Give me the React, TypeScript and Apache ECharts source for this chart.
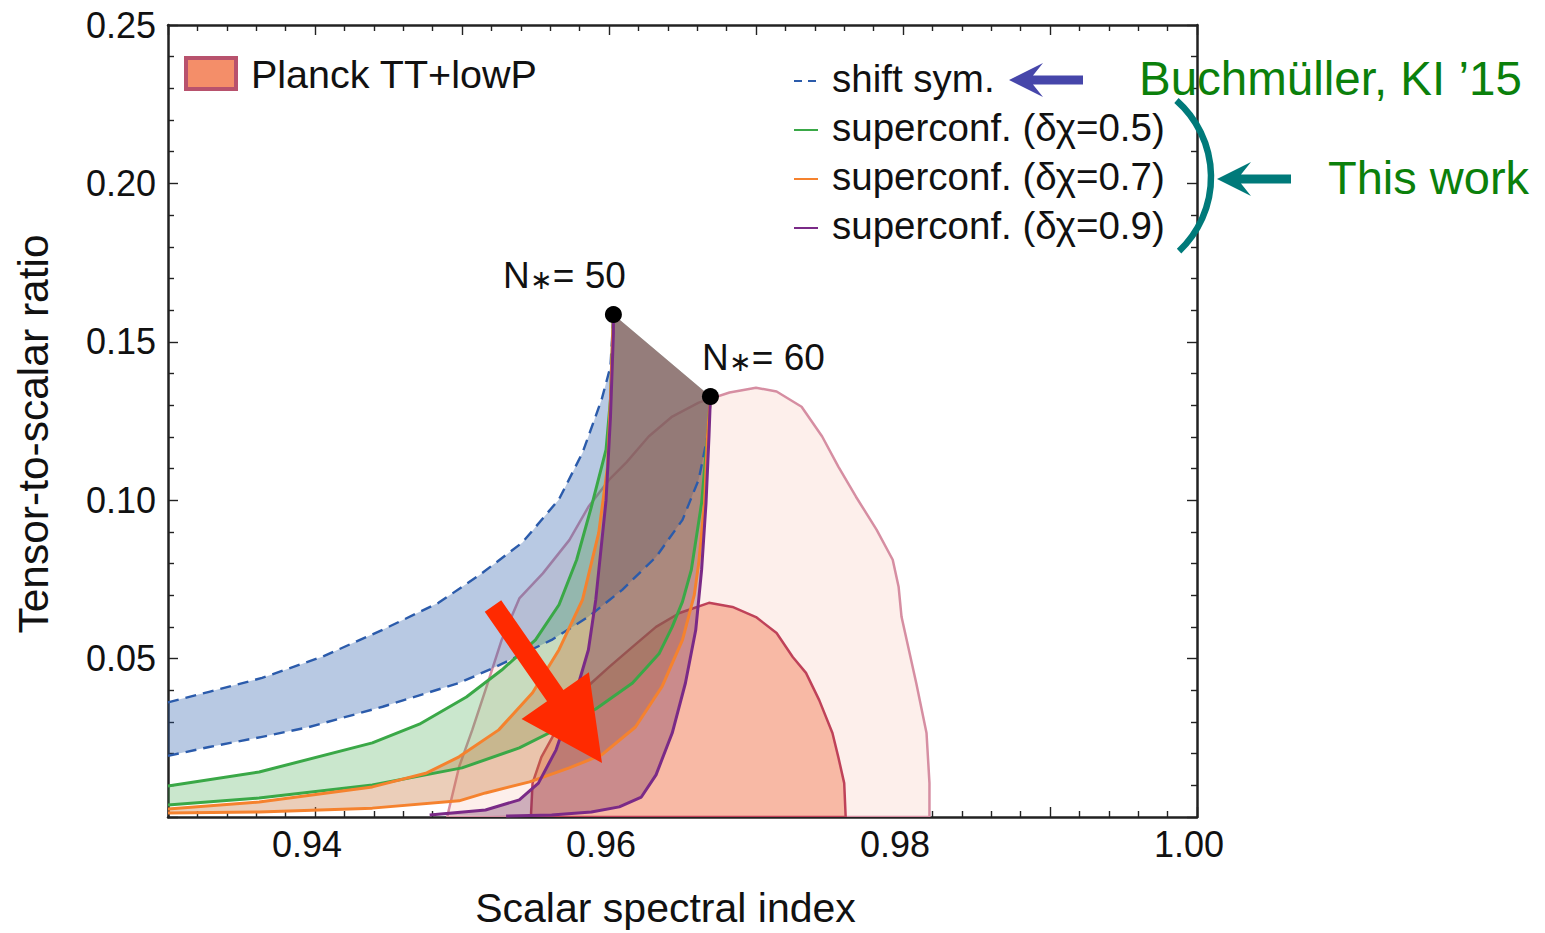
import React, { useEffect, useRef } from "react";
import * as echarts from "echarts";

const FONT = '"Liberation Sans", Arial, Helvetica, sans-serif';

// axis ranges and tick labels
const xRange = [0.93, 1.0];
const yRange = [0, 0.25];
const xTickLabels = ["0.94", "0.96", "0.98", "1.00"];
const yTickLabels = ["0.05", "0.10", "0.15", "0.20", "0.25"];

// end points of the predictions
const nStar50 = [0.9603, 0.1586];
const nStar60 = [0.9669, 0.1327];
const nStarNumbers = ["50", "60"];

// shift symmetric (Buchmüller, KI '15)
const shiftSymUpper = [
  [0.93, 0.0362], [0.9328, 0.0395], [0.9364, 0.0439], [0.9405, 0.0506], [0.9446, 0.0591],
  [0.9484, 0.0676], [0.9512, 0.0764], [0.9541, 0.0866], [0.9566, 0.1003], [0.9582, 0.115],
  [0.9595, 0.1318], [0.9601, 0.1422], nStar50,
];
const shiftSymLower = [
  [0.93, 0.0193], [0.9328, 0.0221], [0.9364, 0.0253], [0.9396, 0.0284], [0.9446, 0.0348],
  [0.9498, 0.0423], [0.9523, 0.0474], [0.9561, 0.0559], [0.9586, 0.0632], [0.9609, 0.0717],
  [0.9632, 0.0821], [0.965, 0.0938], [0.9661, 0.1065], [0.9667, 0.1201], nStar60,
];
// superconformal, δχ = 0.5
const sc05Upper = [
  [0.93, 0.0098], [0.9362, 0.0142], [0.9439, 0.0234], [0.9471, 0.0293], [0.9503, 0.0379],
  [0.9527, 0.0464], [0.955, 0.0559], [0.9566, 0.067], [0.9578, 0.0812], [0.9588, 0.0979],
  [0.9598, 0.116], [0.9601, 0.1318], nStar50,
];
const sc05Lower = [
  [0.93, 0.0038], [0.9362, 0.006], [0.9439, 0.0101], [0.95, 0.0155], [0.9539, 0.0218],
  [0.9566, 0.0281], [0.9591, 0.0341], [0.9616, 0.0423], [0.9634, 0.0515], [0.9643, 0.06],
  [0.965, 0.068], [0.9656, 0.078], [0.9663, 0.0991], [0.9667, 0.12], nStar60,
];
// superconformal, δχ = 0.7
const sc07Upper = [
  [0.93, 0.0025], [0.9362, 0.0047], [0.9439, 0.0095], [0.9476, 0.0139], [0.9498, 0.019],
  [0.9525, 0.0275], [0.9548, 0.0392], [0.9566, 0.0528], [0.9582, 0.0686], [0.9593, 0.0897],
  [0.9599, 0.1106], [0.9601, 0.1318], nStar50,
];
const sc07Lower = [
  [0.93, 0.0013], [0.9362, 0.0016], [0.9439, 0.0028], [0.9498, 0.0051], [0.9516, 0.0076],
  [0.9546, 0.0111], [0.9573, 0.0155], [0.9595, 0.0196], [0.9618, 0.0284], [0.9636, 0.0411],
  [0.965, 0.0559], [0.9658, 0.07], [0.9661, 0.08], [0.9665, 0.0991], [0.9667, 0.12], nStar60,
];
// superconformal, δχ = 0.9
const sc09Upper = [
  [0.9478, 0.0006], [0.9516, 0.0022], [0.9539, 0.0054], [0.9552, 0.0107], [0.9564, 0.0212],
  [0.9578, 0.0401], [0.9586, 0.0528], [0.9591, 0.0686], [0.9598, 0.1], [0.9601, 0.1263],
  [0.9603, 0.1528], nStar50,
];
const sc09Lower = [
  [0.953, 0.0003], [0.9561, 0.0006], [0.9588, 0.0016], [0.9607, 0.0032], [0.9622, 0.0063],
  [0.9632, 0.0133], [0.9643, 0.0265], [0.9652, 0.0423], [0.9659, 0.059], [0.9663, 0.078],
  [0.9666, 0.0991], [0.9668, 0.12], nStar60,
];
// Planck TT+lowP contours
const planck95 = [
  [0.949, 0.0], [0.9491, 0.0022], [0.9498, 0.0158], [0.9507, 0.0275], [0.9516, 0.0401],
  [0.9527, 0.0559], [0.9539, 0.069], [0.9555, 0.0769], [0.9573, 0.0874], [0.9586, 0.0979],
  [0.96, 0.1064], [0.9612, 0.112], [0.9627, 0.1201], [0.9643, 0.1264], [0.9661, 0.1308],
  [0.9682, 0.134], [0.97, 0.1355], [0.9714, 0.1343], [0.9731, 0.1295], [0.9745, 0.1201],
  [0.9756, 0.1106], [0.9768, 0.1011], [0.9782, 0.0907], [0.9793, 0.0812], [0.9797, 0.0727],
  [0.9799, 0.0632], [0.9809, 0.0423], [0.9816, 0.0265], [0.9818, 0.0107], [0.9818, 0.0],
];
const planck68 = [
  [0.9547, 0.0], [0.9547, 0.0013], [0.9548, 0.0107], [0.9554, 0.0189], [0.9566, 0.029],
  [0.9578, 0.0379], [0.9588, 0.0423], [0.96, 0.0473], [0.9616, 0.0537], [0.9632, 0.06],
  [0.9648, 0.0644], [0.9668, 0.0676], [0.9684, 0.0663], [0.97, 0.0631], [0.9714, 0.0581],
  [0.9725, 0.0505], [0.9734, 0.0455], [0.9743, 0.0369], [0.9752, 0.0265], [0.9756, 0.0189],
  [0.976, 0.0107], [0.9761, 0.0],
];

const legendLabels = [
  "shift sym.",
  "superconf. (\u03b4\u03c7=0.5)",
  "superconf. (\u03b4\u03c7=0.7)",
  "superconf. (\u03b4\u03c7=0.9)",
];
const planckLabel = "Planck TT+lowP";
const noteTexts = ["Buchm\u00fcller, KI \u201915", "This work"];
const xTitle = "Scalar spectral index";
const yTitle = "Tensor-to-scalar ratio";

const BLUE = "#2b5bab";
const GREEN = "#3aa847";
const ORANGE = "#f5822e";
const PURPLE = "#7a2a87";
const lineColors = [BLUE, GREEN, ORANGE, PURPLE];
const fillColors = [
  "rgba(40,90,170,0.33)",
  "rgba(60,167,72,0.27)",
  "rgba(200,120,60,0.36)",
  "rgba(115,50,95,0.34)",
];

type P = number[];

function arrowPoints(tip: P, tail: P, headLen: number, headHalf: number, notch: number, shaftHalf: number) {
  const dx = tail[0] - tip[0];
  const dy = tail[1] - tip[1];
  const len = Math.hypot(dx, dy);
  const ux = dx / len, uy = dy / len;
  const nx = -uy, ny = ux;
  const at = (t: number, s: number) => [tip[0] + ux * t + nx * s, tip[1] + uy * t + ny * s];
  return [
    tip,
    at(headLen, headHalf),
    at(notch, shaftHalf),
    at(len, shaftHalf),
    at(len, -shaftHalf),
    at(notch, -shaftHalf),
    at(headLen, -headHalf),
  ];
}

function polySeries(name: string, pts: number[][], fill: string, stroke: string | null, lw: number, z: number) {
  return {
    type: "custom",
    name,
    coordinateSystem: "cartesian2d",
    clip: true,
    silent: true,
    z,
    data: [pts[0]],
    renderItem: (_params: any, api: any) => ({
      type: "polygon",
      shape: { points: pts.map((p) => api.coord(p)) },
      style: { fill, stroke: stroke || "none", lineWidth: lw, lineJoin: "round" },
    }),
  };
}

function lineSeries(name: string, pts: number[][], color: string, width: number, dashed: boolean, z: number) {
  return {
    type: "line",
    name,
    data: pts,
    showSymbol: false,
    symbol: "none",
    clip: true,
    silent: true,
    z,
    lineStyle: { color, width, type: dashed ? [11, 7] : "solid", cap: "butt", join: "round" },
  };
}

export default function App() {
  const ref = useRef<HTMLDivElement>(null);
  useEffect(() => {
    document.body.style.margin = "0";
    document.body.style.overflow = "hidden";
    const chart = echarts.init(ref.current as HTMLDivElement, undefined, { renderer: "svg" });

    const bands = [
      [shiftSymUpper, shiftSymLower],
      [sc05Upper, sc05Lower],
      [sc07Upper, sc07Lower],
      [sc09Upper, sc09Lower],
    ];

    const series: any[] = [];
    series.push(polySeries("Planck 95%", planck95, "#fdefeb", "#d68ea2", 2.5, 1));
    series.push(polySeries("Planck 68%", planck68, "#f8b9a5", "#bf4259", 2.5, 2));
    bands.forEach(([u, l], i) => {
      series.push(polySeries(legendLabels[i] + " band", [...u, ...l.slice().reverse()], fillColors[i], null, 0, 3 + i));
    });
    bands.forEach(([u, l], i) => {
      series.push(lineSeries(legendLabels[i], u, lineColors[i], i === 0 ? 2.4 : 3, i === 0, 10 + i));
      series.push(lineSeries(legendLabels[i] + " N60", l, lineColors[i], i === 0 ? 2.4 : 3, i === 0, 10 + i));
    });
    series.push({
      type: "scatter",
      name: "N*",
      data: [nStar50, nStar60],
      symbolSize: 17,
      itemStyle: { color: "#000", opacity: 1 },
      silent: true,
      z: 20,
      label: {
        show: true,
        formatter: (p: any) => `{a|N}{s|\u2217}{a|= ${nStarNumbers[p.dataIndex]}}`,
        position: "top",
        distance: 14,
        rich: {
          a: { fontFamily: FONT, fontSize: 37, color: "#111" },
          s: { fontFamily: FONT, fontSize: 27, color: "#111", padding: [8, 0, 0, 0] },
        },
      },
      labelLayout: (p: any) =>
        p.dataIndex === 0 ? { dx: -49, dy: 2 } : { dx: 53, dy: 2 },
    });

    const axisLineStyle = { color: "#222", width: 2.5 };
    const tickStyle = { color: "#222", width: 1.4 };
    const common = {
      axisLine: { show: true, onZero: false, lineStyle: axisLineStyle },
      axisTick: { show: true, inside: true, length: 10, lineStyle: tickStyle },
      minorTick: { show: true, splitNumber: 5, length: 6, lineStyle: tickStyle },
      splitLine: { show: false },
      minorSplitLine: { show: false },
    };

    const legendY = [81, 130, 179, 228];
    const graphic: any[] = [];
    // Planck legend
    graphic.push({
      type: "rect",
      shape: { x: 186, y: 58, width: 50, height: 31 },
      style: { fill: "#f48e69", stroke: "#b8526d", lineWidth: 4 },
      z: 100,
    });
    graphic.push({
      type: "text",
      x: 251,
      y: 74,
      style: { text: planckLabel, font: `39.5px ${FONT}`, fill: "#111", textVerticalAlign: "middle", verticalAlign: "middle" },
      z: 100,
    });
    legendLabels.forEach((lab, i) => {
      graphic.push({
        type: "line",
        shape: { x1: 794, y1: legendY[i], x2: 818, y2: legendY[i] },
        style: { stroke: lineColors[i], lineWidth: 2, lineDash: i === 0 ? [8, 6] : null },
        z: 100,
      });
      graphic.push({
        type: "text",
        x: 832,
        y: legendY[i] - 3,
        style: { text: lab, font: `38.5px ${FONT}`, fill: "#111", textVerticalAlign: "middle", verticalAlign: "middle" },
        z: 100,
      });
    });
    // blue arrow pointing at shift sym.
    graphic.push({
      type: "polygon",
      shape: { points: arrowPoints([1009, 80], [1083, 80], 34, 17, 24, 4.5) },
      style: { fill: "#4646aa" },
      z: 100,
    });
    // teal bracket and arrow
    graphic.push({
      type: "arc",
      shape: { cx: 1109, cy: 177, r: 102, startAngle: (-48.6 * Math.PI) / 180, endAngle: (46.6 * Math.PI) / 180, clockwise: true },
      style: { stroke: "#007a7a", lineWidth: 6.5, fill: "none" },
      z: 100,
    });
    graphic.push({
      type: "polygon",
      shape: { points: arrowPoints([1217, 179], [1291, 179], 34, 17, 24, 4.5) },
      style: { fill: "#007a7a" },
      z: 100,
    });
    graphic.push({
      type: "text",
      x: 1139,
      y: 78,
      style: { text: noteTexts[0], font: `47.5px ${FONT}`, fill: "#0b800b", textVerticalAlign: "middle", verticalAlign: "middle" },
      z: 100,
    });
    graphic.push({
      type: "text",
      x: 1328,
      y: 177,
      style: { text: noteTexts[1], font: `47px ${FONT}`, fill: "#0b800b", textVerticalAlign: "middle", verticalAlign: "middle" },
      z: 100,
    });
    // red arrow
    graphic.push({
      type: "polygon",
      shape: { points: arrowPoints([602, 763], [493, 606], 82, 41, 82, 10) },
      style: { fill: "#ff2a00" },
      z: 100,
    });

    chart.setOption({
      animation: false,
      backgroundColor: "#fff",
      textStyle: { fontFamily: FONT },
      grid: { left: 168, right: 348, top: 25, bottom: 116, containLabel: false },
      xAxis: [
        {
          type: "value",
          min: xRange[0],
          max: xRange[1],
          interval: 0.01,
          position: "bottom",
          ...common,
          axisLabel: {
            formatter: (v: number) => (xTickLabels.includes(v.toFixed(2)) ? v.toFixed(2) : ""),
            fontSize: 36,
            fontFamily: FONT,
            color: "#111",
            margin: 9,
            padding: [0, 16, 0, 0],
            showMinLabel: true,
            showMaxLabel: true,
          },
          name: xTitle,
          nameLocation: "middle",
          nameGap: 70,
          nameTextStyle: { fontSize: 41, fontFamily: FONT, color: "#111", padding: [0, 34, 0, 0] },
        },
        {
          type: "value",
          min: xRange[0],
          max: xRange[1],
          interval: 0.01,
          position: "top",
          ...common,
          axisLabel: { show: false },
        },
      ],
      yAxis: [
        {
          type: "value",
          min: yRange[0],
          max: yRange[1],
          interval: 0.05,
          position: "left",
          ...common,
          axisLabel: {
            formatter: (v: number) => (yTickLabels.includes(v.toFixed(2)) ? v.toFixed(2) : ""),
            fontSize: 36,
            fontFamily: FONT,
            color: "#111",
            margin: 12,
          },
          name: yTitle,
          nameLocation: "middle",
          nameGap: 113,
          nameTextStyle: { fontSize: 42.5, fontFamily: FONT, color: "#111", padding: [0, 26, 0, 0] },
        },
        {
          type: "value",
          min: yRange[0],
          max: yRange[1],
          interval: 0.05,
          position: "right",
          ...common,
          axisLabel: { show: false },
        },
      ],
      series,
      graphic,
    });
    return () => chart.dispose();
  }, []);
  return <div ref={ref} style={{ width: 1545, height: 933 }} />;
}
